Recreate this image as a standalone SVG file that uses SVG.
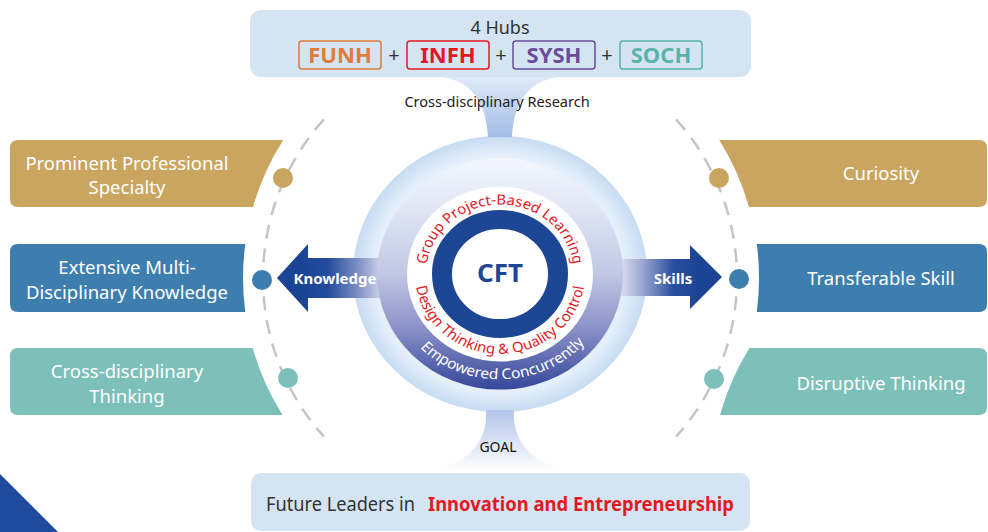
<svg xmlns="http://www.w3.org/2000/svg" width="988" height="532" viewBox="0 0 988 532">
<defs>
<style>
text{font-family:"Noto Sans","Liberation Sans",sans-serif;}
.box-t{fill:#fff;font-size:18.5px;text-anchor:middle;}
.hub{font-size:22px;font-weight:bold;text-anchor:middle;}
.hubbox{fill:none;stroke-width:1.5;}
.plus{font-size:20px;fill:#333;text-anchor:middle;}
.dash{fill:none;stroke:#c4c4c4;stroke-width:2.5;stroke-dasharray:14 10;}
.arrow-t{fill:#fff;font-size:15px;font-weight:bold;text-anchor:middle;}
.red-arc{fill:#e3191f;font-size:15px;}
.gold{fill:#c9a560;}
.blue{fill:#3d7eaf;}
.teal{fill:#7cc0b9;}
</style>
<radialGradient id="haloG" cx="0" cy="0" r="147" gradientUnits="userSpaceOnUse">
<stop offset="0.75" stop-color="#f3f8fd"/>
<stop offset="0.88" stop-color="#e0ecf9"/>
<stop offset="1" stop-color="#c6dbf2"/>
</radialGradient>
<linearGradient id="ringG" x1="0" y1="-124" x2="0" y2="124" gradientUnits="userSpaceOnUse">
<stop offset="0" stop-color="#f3f6fc"/>
<stop offset="0.2" stop-color="#e2e8f5"/>
<stop offset="0.5" stop-color="#c2c7e4"/>
<stop offset="0.73" stop-color="#8b92c8"/>
<stop offset="1" stop-color="#34469a"/>
</linearGradient>
<linearGradient id="topFunnelG" x1="0" y1="77" x2="0" y2="137" gradientUnits="userSpaceOnUse">
<stop offset="0" stop-color="#dfeaf7"/>
<stop offset="1" stop-color="#a3bce5"/>
</linearGradient>
<linearGradient id="botFunnelG" x1="0" y1="410" x2="0" y2="470" gradientUnits="userSpaceOnUse">
<stop offset="0" stop-color="#b1c3e9"/>
<stop offset="1" stop-color="#ffffff"/>
</linearGradient>
<linearGradient id="knowG" x1="300" y1="0" x2="392" y2="0" gradientUnits="userSpaceOnUse">
<stop offset="0" stop-color="#1b4494"/>
<stop offset="0.3" stop-color="#234b9b"/>
<stop offset="0.68" stop-color="#8d9bcb"/>
<stop offset="1" stop-color="#f2f4fb"/>
</linearGradient>
<linearGradient id="skillG" x1="612" y1="0" x2="700" y2="0" gradientUnits="userSpaceOnUse">
<stop offset="0" stop-color="#f2f4fb"/>
<stop offset="0.35" stop-color="#9aa5d2"/>
<stop offset="0.7" stop-color="#2a4e9d"/>
<stop offset="1" stop-color="#1b4494"/>
</linearGradient>
<path id="arcTop" d="M -74,0 A 74 74 0 0 1 74,0"/>
<path id="arcBot" d="M -85,0 A 85 85 0 0 0 85,0"/>
<path id="arcEmp" d="M -112,0 A 112 112 0 0 0 112,0"/>
</defs>

<rect width="988" height="532" fill="#ffffff"/>
<polygon points="0,474 58,532 0,532" fill="#1e4b9b"/>

<g id="hubs">
<rect x="250" y="10" width="501" height="67" rx="11" fill="#d4e4f3"/>
<text x="500" y="34" font-size="18" fill="#333" text-anchor="middle">4 Hubs</text>
<rect class="hubbox" x="299" y="41" width="82" height="28" rx="3" stroke="#e07b39"/>
<text class="hub" x="340" y="63" fill="#e07b39">FUNH</text>
<text class="plus" x="394" y="62">+</text>
<rect class="hubbox" x="407" y="41" width="82" height="28" rx="3" stroke="#e3191f"/>
<text class="hub" x="448" y="63" fill="#e3191f">INFH</text>
<text class="plus" x="501" y="62">+</text>
<rect class="hubbox" x="513" y="41" width="82" height="28" rx="3" stroke="#6b4c9a"/>
<text class="hub" x="554" y="63" fill="#6b4c9a">SYSH</text>
<text class="plus" x="607" y="62">+</text>
<rect class="hubbox" x="620" y="41" width="82" height="28" rx="3" stroke="#5ab3a8"/>
<text class="hub" x="661" y="63" fill="#5ab3a8">SOCH</text>
</g>

<g id="goal">
<rect x="251" y="473" width="499" height="58" rx="10" fill="#d4e4f3"/>
<text x="266" y="511" font-size="19" fill="#333" textLength="149" lengthAdjust="spacingAndGlyphs">Future Leaders in</text>
<text x="428" y="511" font-size="19" font-weight="bold" fill="#e3191f" textLength="306" lengthAdjust="spacingAndGlyphs">Innovation and Entrepreneurship</text>
</g>

<g id="cft-halo" transform="translate(500,274) scale(1,0.94)">
<circle r="147" fill="url(#haloG)"/>
</g>

<g id="connectors">
<path d="M440,77 C470,80 486,100 488,137 L512,137 C514,100 530,80 560,77 Z" fill="url(#topFunnelG)"/>
<text x="497" y="107" font-size="14.5" fill="#222" text-anchor="middle">Cross-disciplinary Research</text>
<path d="M486,410 C488,440 470,462 434,470 L566,470 C530,462 512,440 514,410 Z" fill="url(#botFunnelG)"/>
<text x="498" y="452" font-size="14" fill="#111" text-anchor="middle">GOAL</text>
<path class="dash" d="M323.9,119.4 A237 237 0 0 0 323.9,436.6"/>
<path class="dash" d="M676.1,119.4 A237 237 0 0 1 676.1,436.6"/>
<polygon points="277,278 308,244 308,258 392,258 392,298 308,298 308,312" fill="url(#knowG)"/>
<text class="arrow-t" x="335" y="284">Knowledge</text>
<polygon points="722,277 690,245 690,259 612,259 612,296 690,296 690,309" fill="url(#skillG)"/>
<text class="arrow-t" x="673" y="284">Skills</text>
</g>

<g id="cft" transform="translate(500,274) scale(1,0.94)">
<circle r="123" fill="url(#ringG)"/>
<circle r="93" fill="#ffffff"/>
<circle r="58" fill="none" stroke="#1d4794" stroke-width="20"/>
<text class="red-arc"><textPath href="#arcTop" startOffset="50%" text-anchor="middle">Group Project-Based Learning</textPath></text>
<text class="red-arc" font-size="14.5"><textPath href="#arcBot" startOffset="50%" text-anchor="middle">Design Thinking &amp; Quality Control</textPath></text>
<text fill="#ffffff" font-size="15.5"><textPath href="#arcEmp" startOffset="51%" text-anchor="middle">Empowered Concurrently</textPath></text>
<text x="0" y="9" font-size="26" font-weight="bold" fill="#1d4794" text-anchor="middle">CFT</text>
</g>

<g id="prominent-specialty">
<path class="gold" d="M18,140 L283.2,140 A257 257 0 0 0 253,207 L18,207 Q10,207 10,199 L10,148 Q10,140 18,140 Z"/>
<circle class="gold" cx="283" cy="178" r="10"/>
<text class="box-t" x="127" y="170">Prominent Professional</text>
<text class="box-t" x="127" y="194">Specialty</text>
</g>
<g id="multi-knowledge">
<path class="blue" d="M18,244 L245.3,244 A257 257 0 0 0 245.3,312 L18,312 Q10,312 10,304 L10,252 Q10,244 18,244 Z"/>
<circle class="blue" cx="262" cy="280" r="10"/>
<text class="box-t" x="127" y="274">Extensive Multi-</text>
<text class="box-t" x="127" y="299">Disciplinary Knowledge</text>
</g>
<g id="cross-thinking">
<path class="teal" d="M18,348 L252.7,348 A257 257 0 0 0 282.6,415 L18,415 Q10,415 10,407 L10,356 Q10,348 18,348 Z"/>
<circle class="teal" cx="288" cy="378" r="10"/>
<text class="box-t" x="127" y="378">Cross-disciplinary</text>
<text class="box-t" x="127" y="403">Thinking</text>
</g>

<g id="curiosity">
<path class="gold" d="M719.2,140 L979,140 Q987,140 987,148 L987,199 Q987,207 979,207 L749,207 A259 259 0 0 0 719.2,140 Z"/>
<circle class="gold" cx="719" cy="178" r="10"/>
<text class="box-t" x="881" y="180">Curiosity</text>
</g>
<g id="transferable-skill">
<path class="blue" d="M756.8,244 L979,244 Q987,244 987,252 L987,304 Q987,312 979,312 L756.8,312 A259 259 0 0 0 756.8,244 Z"/>
<circle class="blue" cx="739" cy="279" r="10"/>
<text class="box-t" x="881" y="285">Transferable Skill</text>
</g>
<g id="disruptive-thinking">
<path class="teal" d="M749.4,348 L979,348 Q987,348 987,356 L987,407 Q987,415 979,415 L720,415 A259 259 0 0 1 749.4,348 Z"/>
<circle class="teal" cx="714" cy="379" r="10"/>
<text class="box-t" x="881" y="390">Disruptive Thinking</text>
</g>
</svg>
